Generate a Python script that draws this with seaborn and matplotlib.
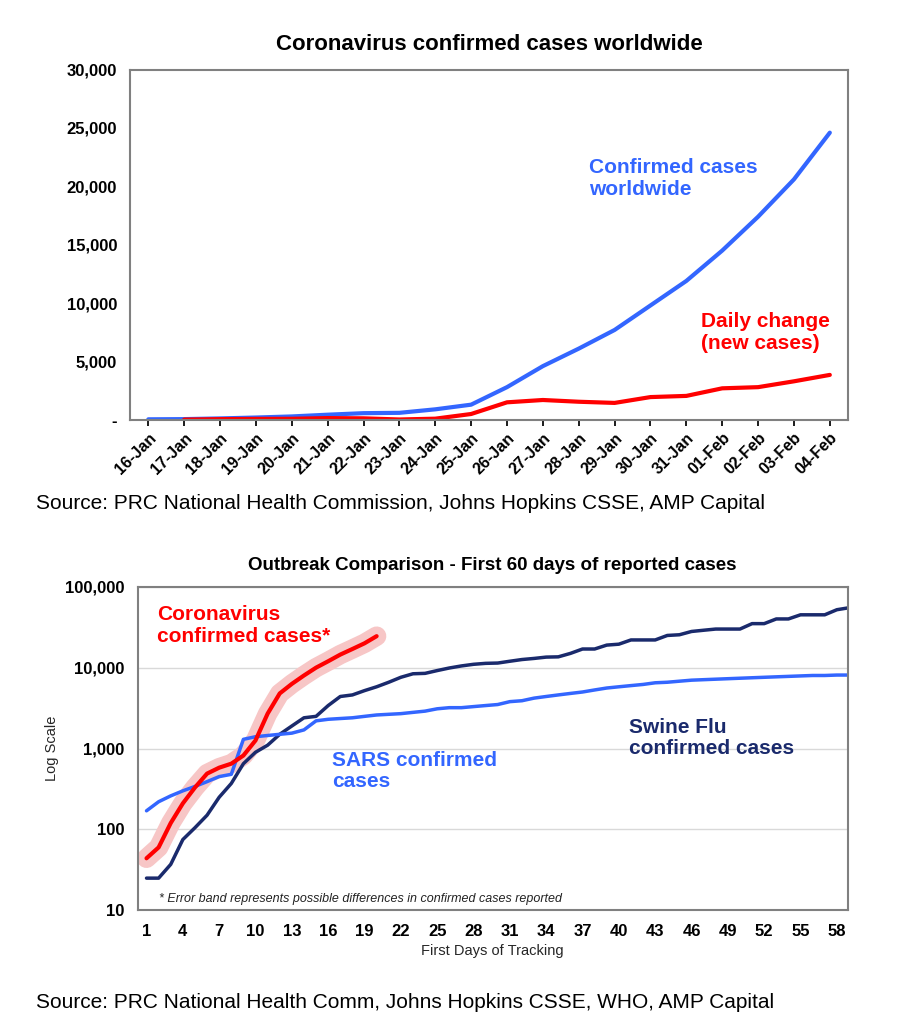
import matplotlib
matplotlib.use("Agg")
import matplotlib.pyplot as plt
import matplotlib.ticker as mtick
import seaborn as sns
import pandas as pd

sns.set_theme(style="white")
plt.rcParams['font.family'] = ['Liberation Sans', 'DejaVu Sans']
plt.rcParams['text.color'] = 'black'
plt.rcParams['xtick.color'] = 'black'
plt.rcParams['ytick.color'] = 'black'

# top chart data
dates = ["16-Jan", "17-Jan", "18-Jan", "19-Jan", "20-Jan", "21-Jan", "22-Jan", "23-Jan", "24-Jan", "25-Jan",
         "26-Jan", "27-Jan", "28-Jan", "29-Jan", "30-Jan", "31-Jan", "01-Feb", "02-Feb", "03-Feb", "04-Feb"]
confirmed = [45, 62, 121, 198, 291, 440, 571, 600, 900, 1300,
             2800, 4600, 6100, 7700, 9800, 11900, 14500, 17400, 20600, 24600]
daily = [None, 20, 60, 80, 90, 150, 130, 30, 100, 500,
         1500, 1700, 1550, 1450, 1950, 2050, 2700, 2800, 3300, 3850]

# bottom chart data
corona = [44, 60, 120, 210, 330, 490, 580, 650, 820, 1260,
          2700, 4800, 6300, 8000, 10000, 12000, 14500, 17000, 20000, 24500]
swine = [25, 25, 37, 75, 105, 150, 250, 370, 650, 900,
         1100, 1500, 1900, 2400, 2500, 3400, 4400, 4600, 5200, 5800,
         6600, 7600, 8400, 8500, 9200, 9900, 10500, 11000, 11300, 11400,
         12000, 12600, 13000, 13500, 13600, 15000, 17000, 17000, 19000, 19500,
         22000, 22000, 22000, 25000, 25500, 28000, 29000, 30000, 30000, 30000,
         35000, 35000, 40000, 40000, 45000, 45000, 45000, 52000, 55000]
sars = [170, 220, 260, 300, 340, 390, 450, 480, 1300, 1400,
        1450, 1500, 1550, 1700, 2200, 2300, 2350, 2400, 2500, 2600,
        2650, 2700, 2800, 2900, 3100, 3200, 3200, 3300, 3400, 3500,
        3800, 3900, 4200, 4400, 4600, 4800, 5000, 5300, 5600, 5800,
        6000, 6200, 6500, 6600, 6800, 7000, 7100, 7200, 7300, 7400,
        7500, 7600, 7700, 7800, 7900, 8000, 8000, 8100, 8100]

BLUE = "#3366ff"
RED = "#ff0000"
NAVY = "#1a2a6c"

fig = plt.figure(figsize=(8.99, 10.24), dpi=100)

# ---- top
ax1 = fig.add_axes([0.145, 0.590, 0.798, 0.342])
top = pd.DataFrame({"x": range(len(dates)), "confirmed": confirmed, "daily": daily})
sns.lineplot(data=top, x="x", y="confirmed", color=BLUE, lw=3, ax=ax1)
sns.lineplot(data=top.dropna(), x="x", y="daily", color=RED, lw=3, ax=ax1)
ax1.set_xlim(-0.5, len(dates) - 0.5)
ax1.set_ylim(0, 30000)
ax1.set_xticks(range(len(dates)))
ax1.set_xticklabels(dates, rotation=45, ha="right", rotation_mode="anchor", fontsize=11.5, fontweight="bold")
ax1.set_yticks(range(0, 30001, 5000))
ax1.yaxis.set_major_formatter(mtick.FuncFormatter(lambda v, p: "-" if v == 0 else f"{int(v):,}"))
for t in ax1.get_yticklabels():
    t.set_fontweight("bold"); t.set_fontsize(12)
ax1.set_xlabel(""); ax1.set_ylabel("")
ax1.tick_params(axis="x", length=4, direction="out", bottom=True)
for s in ax1.spines.values():
    s.set_color("#808080"); s.set_linewidth(1.5)
ax1.set_title("Coronavirus confirmed cases worldwide", fontsize=16, fontweight="bold", pad=14)
ax1.text(12.3, 19300, "Confirmed cases\nworldwide", color=BLUE, fontsize=15, fontweight="bold", linespacing=1.15)
ax1.text(15.4, 6100, "Daily change\n(new cases)", color=RED, fontsize=15, fontweight="bold", linespacing=1.15)
fig.text(0.04, 0.503, "Source: PRC National Health Commission, Johns Hopkins CSSE, AMP Capital", fontsize=15)

# ---- bottom
ax2 = fig.add_axes([0.153, 0.111, 0.790, 0.316])
days = list(range(1, len(swine) + 1))
bot = pd.DataFrame({"day": days, "swine": swine, "sars": sars})
cor = pd.DataFrame({"day": days[:len(corona)], "corona": corona})
ax2.set_yscale("log")
ax2.fill_between(cor["day"], [v * 0.8 for v in corona], [v * 1.25 for v in corona], color="#f5b5b5", alpha=0.8, lw=0)
sns.lineplot(data=cor, x="day", y="corona", color="#f7c6c6", lw=14, ax=ax2, solid_capstyle="round")
sns.lineplot(data=bot, x="day", y="swine", color=NAVY, lw=2.5, ax=ax2)
sns.lineplot(data=bot, x="day", y="sars", color=BLUE, lw=2.5, ax=ax2)
sns.lineplot(data=cor, x="day", y="corona", color=RED, lw=3, ax=ax2)
ax2.set_ylim(10, 100000)
ax2.set_xlim(0.26, 58.9)
ax2.set_xticks(range(1, 59, 3))
ax2.yaxis.set_major_formatter(mtick.FuncFormatter(lambda v, p: f"{int(v):,}"))
ax2.yaxis.set_minor_locator(mtick.NullLocator())
ax2.grid(axis="y", color="#d9d9d9", lw=1)
for t in ax2.get_xticklabels() + ax2.get_yticklabels():
    t.set_fontweight("bold"); t.set_fontsize(12)
ax2.set_xlabel("First Days of Tracking", fontsize=10.5)
ax2.set_ylabel("Log Scale", fontsize=10.5)
for s in ax2.spines.values():
    s.set_color("#808080"); s.set_linewidth(1.5)
ax2.set_title("Outbreak Comparison - First 60 days of reported cases", fontsize=13.5, fontweight="bold", pad=12)
ax2.text(1.9, 21000, "Coronavirus\nconfirmed cases*", color=RED, fontsize=15, fontweight="bold", linespacing=1.15)
ax2.text(16.3, 330, "SARS confirmed\ncases", color=BLUE, fontsize=15, fontweight="bold", linespacing=1.15)
ax2.text(40.8, 860, "Swine Flu\nconfirmed cases", color=NAVY, fontsize=15, fontweight="bold", linespacing=1.15)
ax2.text(2.0, 12.5, "* Error band represents possible differences in confirmed cases reported",
         fontsize=9, style="italic", color="#222222")
fig.text(0.04, 0.016, "Source: PRC National Health Comm, Johns Hopkins CSSE, WHO, AMP Capital", fontsize=15)

fig.savefig("out.png", dpi=100, facecolor="white")
